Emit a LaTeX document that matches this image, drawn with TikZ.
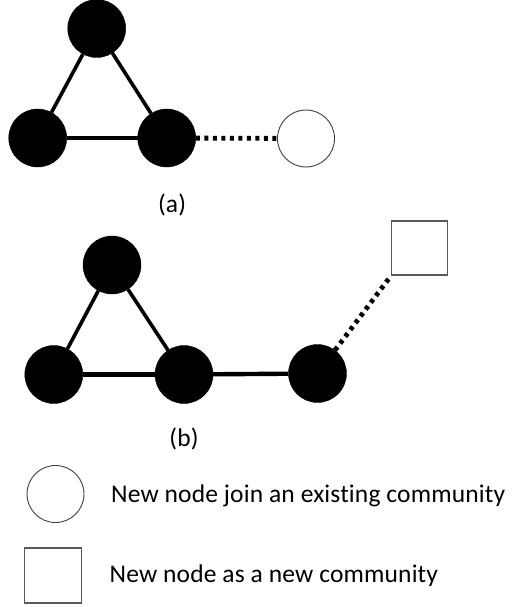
\documentclass[tikz,border=0pt]{standalone}
\usepackage{fontspec}
\setmainfont{Carlito}
\newfontfamily\legfont[LetterSpace=0.6,Ligatures=NoCommon]{Carlito}
\begin{document}
\begin{tikzpicture}[x=1pt,y=-1pt,
  blk/.style={circle,fill=black,draw=black,minimum size=58pt,inner sep=0pt},
  wcirc/.style={circle,fill=white,draw=black!75,line width=0.9pt,minimum size=57pt,inner sep=0pt},
  wsq/.style={rectangle,fill=white,draw=black!65,line width=1.2pt,minimum width=56pt,minimum height=54pt,inner sep=0pt},
  edge/.style={line width=3.6pt,black},
  bedge/.style={line width=4.4pt,black},
  dotline/.style={line width=4.8pt,black,dash pattern=on 4pt off 4.5pt},
  lbl/.style={font=\legfont\fontsize{25.5pt}{30pt}\selectfont,inner sep=0pt}]
\useasboundingbox (0,0) rectangle (514,607);
% (a)
\node[blk] (a1) at (96.7,28.5) {};
\node[blk] (a2) at (37.7,138) {};
\node[blk] (a3) at (166.7,138) {};
\node[wcirc] (a4) at (306,138.5) {};
\draw[edge] (a1) -- (a2);
\draw[edge] (a1) -- (a3);
\draw[bedge] (a2) -- (a3);
\draw[dotline] (a3) -- (a4);
\node[lbl] (la) at (172,205) {(a)};
% (b)
\node[blk] (b1) at (112,265) {};
\node[blk] (b2) at (53.8,374.5) {};
\node[blk] (b3) at (184,374.5) {};
\node[blk] (b4) at (317.5,373.5) {};
\node[wsq] (b5) at (419.7,248) {};
\draw[edge] (b1) -- (b2);
\draw[edge] (b1) -- (b3);
\draw[bedge] (b2) -- (b3);
\draw[bedge] (b3) -- (b4);
\draw[dotline] (b4) -- (b5.south west);
\node[lbl] (lb) at (184,439) {(b)};
% legend
\node[wcirc] (lc) at (55.5,494) {};
\node[lbl,anchor=west] (tc) at (111,496) {New node join an existing community};
\node[wsq,minimum width=57pt,minimum height=55pt] (ls) at (52.7,575.5) {};
\node[lbl,anchor=west] (ts) at (109.5,576) {New node as a new community};
\end{tikzpicture}
\end{document}
